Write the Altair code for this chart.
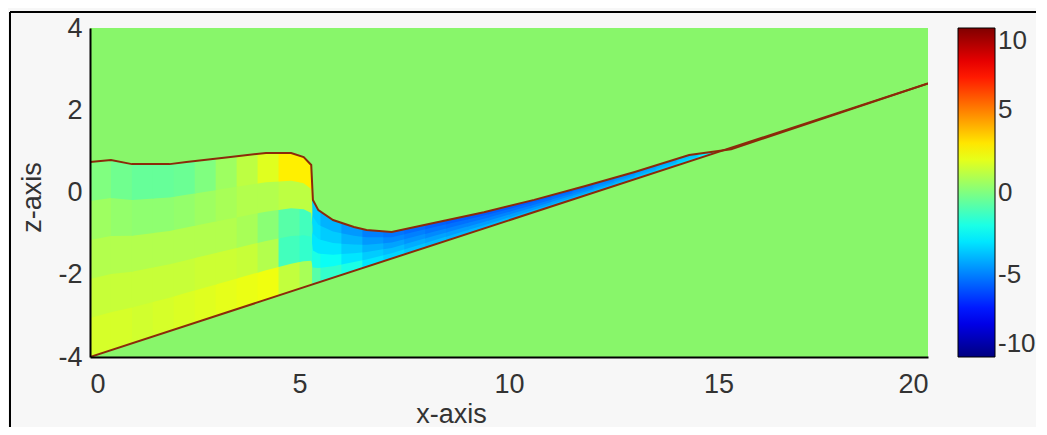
import altair as alt
import numpy as np
import pandas as pd

# ---- geometry ----
surface_x = [0, 0.5, 1.0, 1.9, 2.3, 3.3, 4.2, 4.8, 5.1, 5.28, 5.32, 5.45, 5.8, 6.3, 6.6, 7.2,
             8.2, 9.4, 10.6, 11.8, 13.0, 14.3, 15.3, 20]
surface_z = [0.74, 0.79, 0.69, 0.69, 0.74, 0.86, 0.96, 0.96, 0.86, 0.67, -0.18, -0.43, -0.67,
             -0.84, -0.91, -0.96, -0.74, -0.48, -0.18, 0.15, 0.5, 0.91, 1.05, 2.65]
bottom_x = [0, 20]
bottom_z = [-4, 2.65]

# ---- field values: columns between these edges, 5 terrain-following layers bottom->top ----
col_edges = [0, 0.5, 1.0, 1.5, 2.0, 2.5, 3.0, 3.5, 4.0, 4.5, 5.0, 5.3, 5.5, 6.0, 6.5, 7.0,
             7.5, 8.0, 8.5, 9.0, 9.5, 10.0, 10.5, 11.0, 11.5, 12.0, 12.5, 13.0, 13.5, 14.0,
             14.5, 15.0, 15.5]
layer0 = [1.7, 1.7, 1.6, 1.7, 1.8, 1.9, 2.0, 2.1, 2.2, 1.3, 0.8, -0.8, -1.5, -2.0, -3.0, -3.3,
          -3.6, -3.8, -3.9, -3.9, -3.9, -3.9, -3.9, -3.9, -3.8, -3.7, -3.6, -3.5, -3.3, -3.0,
          -2.3, -1.0]
layer1 = [1.4, 1.4, 1.4, 1.4, 1.4, 1.5, 1.5, 1.4, 1.0, -1.2, -1.5, -2.0, -2.3, -3.0, -3.5, -3.8,
          -4.1, -4.3, -4.4, -4.4, -4.4, -4.4, -4.4, -4.3, -4.2, -4.1, -4.0, -3.8, -3.6, -3.3,
          -2.6, -1.2]
layer2 = [1.0, 1.0, 1.0, 1.0, 1.0, 1.0, 1.0, 0.8, 0.2, -0.8, -1.2, -3.0, -3.0, -3.5, -4.0, -4.3,
          -4.6, -4.8, -4.9, -4.9, -4.9, -4.9, -4.9, -4.8, -4.7, -4.5, -4.3, -4.1, -3.9, -3.5,
          -2.8, -1.3]
layer3 = [0.6, 0.4, 0.3, 0.3, 0.4, 0.6, 0.8, 1.0, 1.0, 1.2, 1.2, -3.2, -3.5, -4.0, -4.5, -4.8,
          -5.0, -5.2, -5.3, -5.3, -5.3, -5.3, -5.3, -5.2, -5.0, -4.8, -4.6, -4.3, -4.1, -3.7,
          -3.0, -1.4]
layer4 = [0.0, -0.3, -0.5, -0.5, -0.4, 0.0, 0.6, 1.2, 1.9, 2.8, 2.8, -3.5, -4.0, -4.5, -5.0, -5.2,
          -5.4, -5.6, -5.7, -5.7, -5.7, -5.7, -5.6, -5.5, -5.3, -5.0, -4.8, -4.5, -4.2, -3.8,
          -3.0, -1.4]
layers = [layer0, layer1, layer2, layer3, layer4]

x_ticks = [0, 5, 10, 15, 20]
z_ticks = [-4, -2, 0, 2, 4]
cbar_ticks = [10, 5, 0, -5, -10]

BG = "#88F66A"
LINE = "#8B2A0A"

sx = np.array(surface_x, float)
sz = np.array(surface_z, float)
nl = len(layers)


def layer_table(k):
    """Cells of sigma-layer k: each drawn from its lower face up to the surface; later
    layers paint over the upper part, so no seams appear between layers."""
    rows = []
    lay = layers[k]
    for i in range(len(col_edges) - 1):
        x0, x1 = col_edges[i], col_edges[i + 1] + 0.03
        pts = [x0] + [float(v) for v in sx if x0 < v < x1] + [x1]
        for p in pts:
            b = float(np.interp(p, bottom_x, bottom_z))
            s = max(float(np.interp(p, sx, sz)), b)
            rows.append({"cell": i, "x": p, "lo": b + k / nl * (s - b), "hi": s, "v": lay[i]})
    return pd.DataFrame(rows)


surf = pd.DataFrame({"x": surface_x, "z": surface_z})
bot = pd.DataFrame({"x": bottom_x, "z": bottom_z})

xs = alt.Scale(domain=[0, 20], nice=False, zero=False)
zs = alt.Scale(domain=[-4, 4], nice=False, zero=False)
jet = alt.Scale(domain=[-10, -7.5, -2.5, 2.5, 7.5, 10],
                range=["#000080", "#0000ff", "#00ffff", "#ffff00", "#ff0000", "#800000"],
                interpolate="rgb")

FONT = "Liberation Sans, Arial"
LS = 27
xaxis = alt.Axis(values=x_ticks, ticks=False, grid=False, domainColor="#000000", domainWidth=2,
                 zindex=1, labelFont=FONT, labelFontSize=LS, labelColor="#333333", labelPadding=14,
                 title="x-axis", titleFont=FONT, titleFontSize=LS, titleFontWeight="normal",
                 titleColor="#333333", titleX=361, titleY=65, titleBaseline="alphabetic")
zaxis = alt.Axis(values=z_ticks, ticks=False, grid=False, domainColor="#000000", domainWidth=2,
                 zindex=1, labelFont=FONT, labelFontSize=LS, labelColor="#333333", labelPadding=8,
                 labelExpr="'' + datum.value",
                 title="z-axis", titleFont=FONT, titleFontSize=LS, titleFontWeight="normal",
                 titleColor="#333333", titleAngle=-90, titleX=-58, titleY=169,
                 titleAlign="center", titleBaseline="middle")
legend = alt.Legend(type="gradient", title=None, orient="none", legendX=868, legendY=0,
                    direction="vertical", gradientLength=329, gradientThickness=37,
                    gradientStrokeColor="#000000", gradientStrokeWidth=1, values=cbar_ticks,
                    labelExpr="'' + datum.value", labelFont=FONT, labelFontSize=26,
                    labelColor="#333333", labelOffset=3, padding=0)

cell_layers = []
for k in range(nl):
    cell_layers.append(
        alt.Chart(layer_table(k)).mark_area(clip=True).encode(
            x=alt.X("x:Q", scale=xs, axis=xaxis, title="x-axis"),
            y=alt.Y("lo:Q", scale=zs, axis=zaxis, title="z-axis"),
            y2="hi:Q",
            detail="cell:N",
            color=alt.Color("v:Q", scale=jet, legend=legend),
        )
    )

surf_line = alt.Chart(surf.reset_index()).mark_line(color=LINE, strokeWidth=2, clip=True).encode(
    x=alt.X("x:Q", scale=xs, axis=xaxis, title="x-axis"),
    y=alt.Y("z:Q", scale=zs, axis=zaxis, title="z-axis"),
    order="index:Q",
)
bot_line = alt.Chart(bot).mark_line(color=LINE, strokeWidth=2, clip=True).encode(
    x=alt.X("x:Q", scale=xs, axis=xaxis, title="x-axis"),
    y=alt.Y("z:Q", scale=zs, axis=zaxis, title="z-axis"),
)
frame_top = alt.Chart(bot).mark_rule(color="#000000", strokeWidth=2).encode(
    x=alt.value(-80), x2=alt.value(960), y=alt.value(-16)
)
frame_left = alt.Chart(bot).mark_rule(color="#000000", strokeWidth=2).encode(
    x=alt.value(-80), y=alt.value(-16), y2=alt.value(420)
)

chart = alt.layer(*cell_layers, surf_line, bot_line, frame_top, frame_left).properties(
    width=838, height=329,
    autosize=alt.AutoSizeParams(type="none"),
    padding={"left": 82, "top": 20, "right": 108, "bottom": 70},
    background="#f7f7f7",
).configure_view(fill=BG, stroke=None)

chart.save("out.html", embed_options={"renderer": "svg", "actions": False})
